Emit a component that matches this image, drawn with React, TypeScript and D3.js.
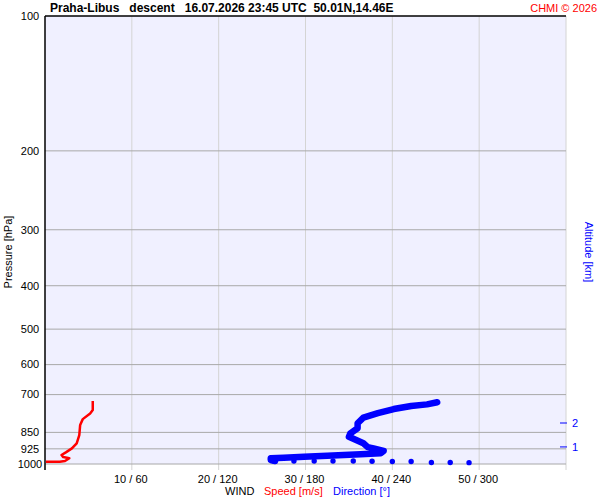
import * as d3 from 'd3'

// pressure levels drawn as horizontal grid lines
const pressureTicks = [100, 200, 300, 400, 500, 600, 700, 850, 925, 1000]
// wind speed grid (m/s); direction label = speed * 6
const speedTicks = [10, 20, 30, 40, 50, 60]

// wind speed profile (red)
const speedPressure = [723, 758, 771, 794, 818, 862, 899, 923, 942, 955, 965, 971, 985, 988, 988]
const speedValues = [5.5, 5.5, 5.2, 4.35, 4.05, 3.95, 3.65, 3.1, 2.4, 1.9, 2.1, 2.8, 2.3, 1.7, 0.1]

// wind direction profile (blue)
const dirPressure = [728, 736, 742, 754, 770, 788, 811, 832, 854, 869, 884, 899, 917, 923, 935, 946, 951, 958, 963, 968, 971, 980, 985]
const dirValues = [271, 264, 253, 241, 230, 220, 216, 216, 211, 210, 215, 220, 223, 227, 234, 232, 218, 195, 179, 165, 156, 156, 159]

// separate direction points near the ground
const sfcPressure = [985, 985, 985, 985, 985, 986, 987, 987, 992, 992, 993]
const sfcDir = [158, 172, 186, 199, 213, 226, 240, 253, 267, 280, 293]

// altitude marks on the right
const altKm = [1, 2]
const altPressure = [916, 810]

const font = 'Arial, "Liberation Sans", sans-serif'

export default function App() {
  const left = 45
  const right = 566
  const top = 16
  const bottom = 464

  const y = d3.scaleLog().domain([100, 1000]).range([top, bottom])
  const xSpeed = d3.scaleLinear().domain([0, 60]).range([left, right])
  const xDir = d3.scaleLinear().domain([0, 360]).range([left, right])

  const speedLine = d3.line<number>()
    .x(d => xSpeed(speedValues[d]))
    .y(d => y(speedPressure[d]))
    .curve(d3.curveLinear)
  const dirLine = d3.line<number>()
    .x(d => xDir(dirValues[d]))
    .y(d => y(dirPressure[d]))

  return (
    <svg width={600} height={500} style={{ position: 'absolute', left: 0, top: 0, background: '#fff' }} fontFamily={font}>
      <rect x={left} y={top} width={right - left} height={bottom - top} fill="#f0f0ff" />

      {/* vertical grid */}
      {speedTicks.map(t => (
        <line key={'v' + t} x1={xSpeed(t)} x2={xSpeed(t)} y1={top} y2={470} stroke="#d4d4d4" strokeWidth={1} />
      ))}
      {/* horizontal grid */}
      {pressureTicks.map(p => (
        <line key={'h' + p} x1={left} x2={right} y1={y(p)} y2={y(p)} stroke={p === 100 ? '#000' : '#a8a8a8'} strokeWidth={p === 100 ? 1.5 : 1} />
      ))}
      <line x1={left} x2={left} y1={top} y2={470} stroke="#000" strokeWidth={1.5} />

      {/* pressure labels */}
      {pressureTicks.map(p => (
        <text key={'pl' + p} x={30} y={y(p)} dy="0.35em" textAnchor="middle" fontSize={11}>{p}</text>
      ))}
      {/* wind labels */}
      {speedTicks.filter(t => t < 60).map(t => (
        <text key={'sl' + t} x={xSpeed(t) - 1} y={483} textAnchor="middle" fontSize={11}>{`${t} / ${t * 6}`}</text>
      ))}

      {/* altitude marks */}
      {altKm.map((k, i) => (
        <g key={'a' + k}>
          <line x1={560} x2={567} y1={y(altPressure[i])} y2={y(altPressure[i])} stroke="#0000ff" strokeWidth={1} />
          <text x={572} y={y(altPressure[i])} dy="0.35em" fontSize={11} fill="#0000ff">{k}</text>
        </g>
      ))}

      {/* data */}
      <path d={dirLine(d3.range(dirValues.length)) ?? ''} fill="none" stroke="#0000ff" strokeWidth={6.5} strokeLinejoin="round" strokeLinecap="round" />
      {sfcDir.map((d, i) => (
        <circle key={'s' + i} cx={xDir(d)} cy={y(sfcPressure[i])} r={2.7} fill="#0000ff" />
      ))}
      <path d={speedLine(d3.range(speedValues.length)) ?? ''} fill="none" stroke="#ff0000" strokeWidth={2.5} strokeLinejoin="round" />

      {/* titles */}
      <text x={50} y={12} fontSize={12} fontWeight="bold" style={{ whiteSpace: 'pre' }}>
        {'Praha-Libus   descent   16.07.2026 23:45 UTC  50.01N,14.46E'}
      </text>
      <text x={597} y={12} fontSize={11} fill="#ff0000" textAnchor="end">CHMI © 2026</text>
      <text transform="translate(12,252) rotate(-90)" textAnchor="middle" fontSize={11}>Pressure [hPa]</text>
      <text transform="translate(585,252) rotate(90)" textAnchor="middle" fontSize={11} fill="#0000ff">Altitude [km]</text>
      <text y={495} fontSize={11} style={{ whiteSpace: 'pre' }}>
        <tspan x={225}>WIND</tspan>
        <tspan x={264} fill="#ff0000">Speed [m/s]</tspan>
        <tspan x={333} fill="#0000ff">Direction [°]</tspan>
      </text>
    </svg>
  )
}
